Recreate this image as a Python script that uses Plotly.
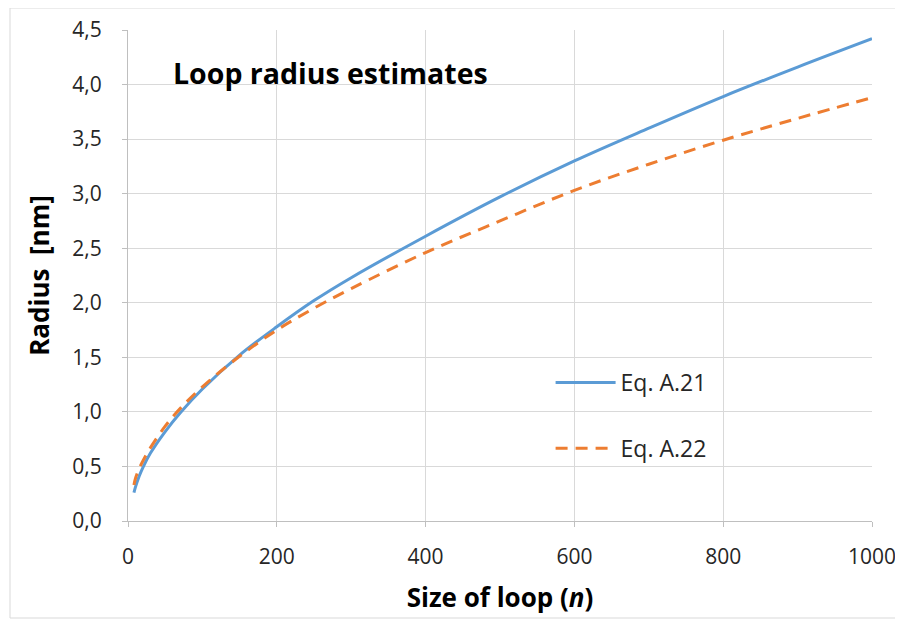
import plotly.graph_objects as go

# Data
n_a21 = [8, 10, 15, 20, 30, 50, 70, 100, 150, 200, 250, 300, 400, 500, 600, 700, 800, 900, 1000]
r_a21 = [0.26, 0.31, 0.41, 0.49, 0.62, 0.82, 0.99, 1.21, 1.52, 1.78, 2.02, 2.23, 2.61, 2.97, 3.30, 3.60, 3.89, 4.16, 4.42]

n_a22 = [8, 10, 15, 20, 30, 50, 70, 100, 150, 200, 250, 300, 400, 500, 600, 700, 800, 900, 1000]
r_a22 = [0.33, 0.39, 0.48, 0.55, 0.67, 0.87, 1.03, 1.23, 1.51, 1.75, 1.95, 2.13, 2.46, 2.75, 3.03, 3.27, 3.49, 3.69, 3.88]

y_tickvals = [0, 0.5, 1.0, 1.5, 2.0, 2.5, 3.0, 3.5, 4.0, 4.5]
y_ticktext = ["0,0", "0,5", "1,0", "1,5", "2,0", "2,5", "3,0", "3,5", "4,0", "4,5"]
x_tickvals = [0, 200, 400, 600, 800, 1000]

FONT = "Open Sans"

fig = go.Figure()
fig.add_trace(go.Scatter(
    x=n_a21, y=r_a21, mode="lines", name="Eq. A.21",
    line=dict(color="#5B9BD5", width=3, shape="spline"),
    legendgroup="a21",
))
fig.add_trace(go.Scatter(
    x=n_a22, y=r_a22, mode="lines", name="Eq. A.22",
    line=dict(color="#ED7D31", width=3, dash="12px,8px", shape="spline"),
    legendgroup="a22",
))

fig.update_layout(
    width=895, height=618,
    margin=dict(l=120, r=31, t=22, b=105, autoexpand=False),
    paper_bgcolor="white", plot_bgcolor="white",
    font=dict(family=FONT, color="#404040"),
    showlegend=True,
    legend=dict(
        x=0.568, y=0.326, xanchor="left", yanchor="top",
        bgcolor="rgba(0,0,0,0)",
        font=dict(family=FONT, size=23, color="#262626"),
        tracegroupgap=33, traceorder="grouped",
        itemwidth=60,
    ),
    xaxis=dict(
        range=[0, 1000], tickvals=x_tickvals, automargin=False,
        showgrid=True, gridcolor="#D9D9D9", gridwidth=1,
        showline=True, linecolor="#BFBFBF", linewidth=1,
        ticks="outside", ticklen=5, tickcolor="#BFBFBF",
        tickfont=dict(family=FONT, size=21, color="#262626"),
        ticklabelstandoff=12,
        zeroline=False,
        title=dict(text="<b>Size of loop (<i>n</i>)</b>",
                   font=dict(family=FONT, size=26, color="#000000"), standoff=19),
    ),
    yaxis=dict(
        range=[0, 4.5], tickvals=y_tickvals, ticktext=y_ticktext, automargin=False,
        showgrid=True, gridcolor="#D9D9D9", gridwidth=1,
        showline=True, linecolor="#BFBFBF", linewidth=1,
        ticks="outside", ticklen=5, tickcolor="#BFBFBF",
        tickfont=dict(family=FONT, size=21, color="#262626"),
        ticklabelstandoff=16,
        zeroline=False,
        title=dict(text="<b>Radius  [nm]</b>",
                   font=dict(family=FONT, size=26, color="#000000"), standoff=15),
    ),
)

fig.add_annotation(
    xref="paper", yref="paper", x=0.058, y=0.913,
    xanchor="left", yanchor="middle",
    text="<b>Loop radius estimates</b>", showarrow=False,
    font=dict(family=FONT, size=28.5, color="#000000"),
)

# Chart-area border
fig.add_shape(
    type="rect", xref="paper", yref="paper",
    x0=-118 / 744, x1=(744 + 25) / 744,
    y0=-97 / 491, y1=(491 + 22) / 491,
    line=dict(color="#D9D9D9", width=1), fillcolor="rgba(0,0,0,0)",
    layer="below",
)

fig.write_html("out.html")
